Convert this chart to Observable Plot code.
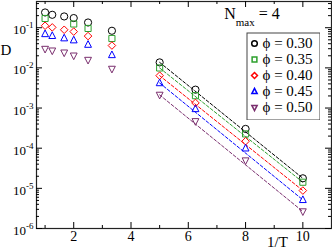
<!DOCTYPE html>
<html><head><meta charset="utf-8">
<script src="https://cdn.jsdelivr.net/npm/d3@7"></script>
<script src="https://cdn.jsdelivr.net/npm/@observablehq/plot@0.6"></script>
<style>
body{margin:0;background:#fff}
#wrap{position:relative;width:332px;height:252px;font-family:"Liberation Serif","DejaVu Serif",serif}
#legend{position:absolute;left:246px;top:32px}
</style></head><body><div id="wrap"></div>
<script>
// 1/T values
const invT = [1, 1.25, 1.667, 2, 2.5, 3.333, 5, 6.25, 8, 10];
const phiLabels = ["0.30", "0.35", "0.40", "0.45", "0.50"];
const D030 = [0.240, 0.210, 0.191, 0.174, 0.135, 0.084, 0.0137, 0.00287, 3.02e-4, 1.78e-5];
const D035 = [0.170, null, null, 0.124, 0.096, 0.054, 0.00995, 0.00203, 2.27e-4, 1.42e-5];
const D040 = [0.112, 0.102, 0.089, 0.080, 0.062, 0.036, 0.0064, 0.00134, 1.49e-4, 8.8e-6];
const D045 = [0.070, 0.063, 0.055, 0.049, 0.038, 0.021, 0.0042, 0.00095, 9.95e-5, 5.17e-6];
const D050 = [0.0295, 0.0268, 0.0239, 0.0201, 0.0157, 0.0094, 0.00212, 4.67e-4, 4.92e-5, 2.65e-6];
// dashed fit lines (endpoints)
const fitX = [5, 10];
const fit030 = [0.0137, 1.78e-5];
const fit035 = [0.00995, 1.42e-5];
const fit040 = [0.0064, 8.8e-6];
const fit045 = [0.0042, 5.17e-6];
const fit050 = [0.00212, 2.65e-6];
// tick values
const xMajor = [2, 4, 6, 8, 10];
const xMinor = [1, 3, 5, 7, 9];
const yMajor = [1e-6, 1e-5, 1e-4, 1e-3, 1e-2, 1e-1];

const colors = ["#000000", "#2ca02c", "#ff0000", "#0000ff", "#7a2e6e"];

const sym = {
  circle: "circle",
  square: {draw(c, s){const r = Math.sqrt(s/Math.PI)*0.85; c.moveTo(-r,-r); c.lineTo(r,-r); c.lineTo(r,r); c.lineTo(-r,r); c.closePath();}},
  diamond: {draw(c, s){const r = Math.sqrt(s/Math.PI)*1.05; c.moveTo(0,-r); c.lineTo(r,0); c.lineTo(0,r); c.lineTo(-r,0); c.closePath();}},
  tri: {draw(c, s){const r = Math.sqrt(s/Math.PI); c.moveTo(0,-1.1*r); c.lineTo(0.95*r,0.75*r); c.lineTo(-0.95*r,0.75*r); c.closePath();}},
  triDown: {draw(c, s){const r = Math.sqrt(s/Math.PI); c.moveTo(0,1.1*r); c.lineTo(0.95*r,-0.75*r); c.lineTo(-0.95*r,-0.75*r); c.closePath();}}
};
const symbols = [sym.circle, sym.square, sym.diamond, sym.tri, sym.triDown];
const values = [D030, D035, D040, D045, D050];
const fits = [fit030, fit035, fit040, fit045, fit050];

const yMinor = [];
for (let e = -6; e <= -1; e++) for (let k = 2; k <= 9; k++) { const v = k * Math.pow(10, e); if (v < 0.45) yMinor.push(v); }

const W = 332, H = 252, mL = 36, mR = 1, mT = 1, mB = 24;
const iw = W - mL - mR, ih = H - mT - mB;
const font = '"Liberation Serif","DejaVu Serif",serif';

const marks = [
  Plot.frame({stroke: "#222", strokeWidth: 1.2}),
  Plot.tickY(yMajor, {y: d => d, insetRight: iw - 6}),
  Plot.tickY(yMajor, {y: d => d, insetLeft: iw - 6}),
  Plot.tickY(yMinor, {y: d => d, insetRight: iw - 3}),
  Plot.tickY(yMinor, {y: d => d, insetLeft: iw - 3}),
  Plot.tickX(xMajor, {x: d => d, insetTop: ih - 6}),
  Plot.tickX(xMajor, {x: d => d, insetBottom: ih - 6}),
  Plot.tickX(xMinor, {x: d => d, insetTop: ih - 3}),
  Plot.tickX(xMinor, {x: d => d, insetBottom: ih - 3}),
  Plot.axisX({ticks: xMajor, tickSize: 0, tickPadding: 3, fontSize: 14, label: null, tickFormat: d => String(d)}),
  Plot.axisY({ticks: yMajor, tickSize: 0, tickPadding: 3, fontSize: 13, dy: 2.3, label: null, tickFormat: d => "10^-" + Math.round(-Math.log10(d))})
];
fits.forEach((f, i) => {
  marks.push(Plot.line(fitX.map((x, j) => ({x, D: f[j]})), {x: "x", y: "D", stroke: colors[i], strokeWidth: 1, strokeDasharray: "3,2"}));
});
values.forEach((v, i) => {
  const rows = invT.map((x, j) => ({x, D: v[j]})).filter(d => d.D != null);
  marks.push(Plot.dot(rows, {x: "x", y: "D", symbol: symbols[i], stroke: colors[i], strokeWidth: 1, r: 3.6, fill: "none"}));
});
marks.push(Plot.text(["D"], {text: d => d, frameAnchor: "top-left", dx: -36, dy: 43, textAnchor: "start", fontSize: 15}));
marks.push(Plot.text(["1/T"], {text: d => d, frameAnchor: "bottom-right", dx: -54, dy: 18, textAnchor: "middle", fontSize: 15}));

const chart = Plot.plot({
  width: W, height: H, marginLeft: mL, marginRight: mR, marginTop: mT, marginBottom: mB,
  x: {domain: [0.7, 11]},
  y: {type: "log", domain: [1e-6, 0.45]},
  style: {fontFamily: font, background: "white", color: "black"},
  marks
});

d3.select(chart).selectAll('g[aria-label="y-axis tick label"] text').each(function() {
  const parts = this.textContent.split("^");
  const s = d3.select(this);
  s.text(null);
  s.append("tspan").text(parts[0]);
  s.append("tspan").attr("dy", "-6").attr("font-size", "9px").text(parts[1]);
});

const nt = d3.select(chart).append("text").attr("x", 252).attr("y", 19).attr("font-size", 16).attr("font-family", font).attr("fill", "black");
nt.append("tspan").text("N");
nt.append("tspan").attr("dy", 7).attr("font-size", 11).text("max");
nt.append("tspan").attr("dy", -7).attr("font-size", 16).text(" = 4");

const legend = Plot.plot({
  width: 74, height: 88, margin: 0,
  x: {domain: [0, 1], axis: null},
  y: {type: "point", domain: phiLabels, range: [10, 75], padding: 0, axis: null},
  style: {fontFamily: font, background: "white", color: "black"},
  marks: [
    Plot.frame({stroke: "#444", inset: 0.5}),
    ...phiLabels.map((p, i) => Plot.dot([p], {y: d => d, frameAnchor: "left", dx: 8, symbol: symbols[i], stroke: colors[i], r: 2.8, fill: "none"})),
    Plot.text(phiLabels, {y: d => d, text: d => "\u03D5 = " + d, frameAnchor: "left", dx: 16, textAnchor: "start", fontSize: 15})
  ]
});
legend.id = "legend";

const wrap = document.getElementById("wrap");
wrap.appendChild(chart);
wrap.appendChild(legend);
</script>
</body></html>
